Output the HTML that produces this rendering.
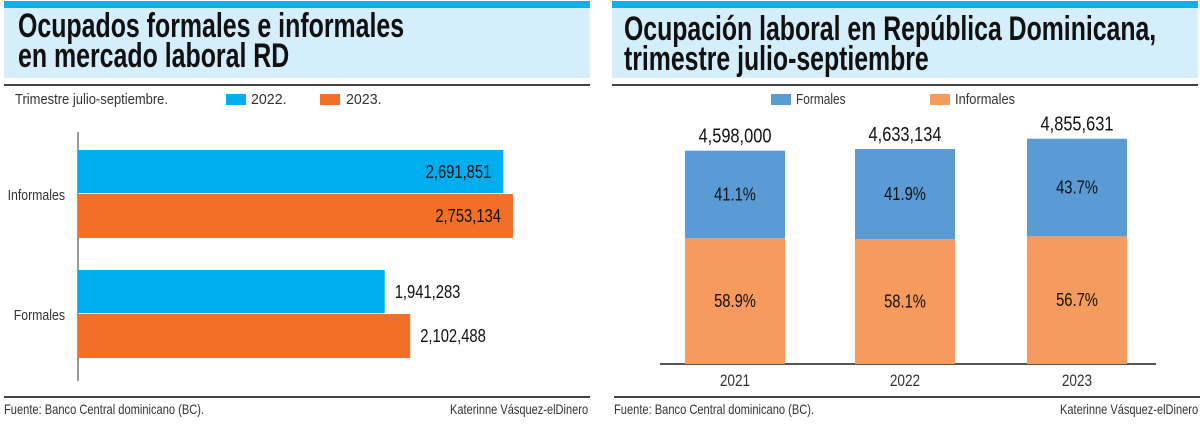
<!DOCTYPE html>
<html><head><meta charset="utf-8"><style>
body{margin:0;width:1200px;height:429px;background:#fff;position:relative;overflow:hidden;font-family:"Liberation Sans",sans-serif;}
.abs{position:absolute;}
.topbar{height:7px;background:#13aee8;top:1px;}
.tbox{top:8px;height:70px;background:#d4eefb;}
.title{font-weight:bold;font-size:34px;line-height:30px;color:#111;white-space:nowrap;transform-origin:0 0;}
.rule{height:2px;background:#444;}
.small{font-size:15px;color:#333;white-space:nowrap;transform-origin:0 0;}
</style></head><body>
<div class="abs topbar" style="left:4px;width:586px"></div>
<div class="abs tbox" style="left:4px;width:586px"></div>
<div class="abs title" data-fit="386" style="left:18px;top:11px">Ocupados formales e informales<br>en mercado laboral RD</div>
<div class="abs rule" style="left:4px;top:84px;width:586px"></div>
<div class="abs small" data-fit="153" style="left:15px;top:91px">Trimestre julio-septiembre.</div>
<div class="abs" style="left:226px;top:94px;width:20px;height:11px;background:#00aeef"></div>
<div class="abs small" data-fit="36" style="left:251px;top:91px">2022.</div>
<div class="abs" style="left:320px;top:94px;width:20px;height:11px;background:#f26f28"></div>
<div class="abs small" data-fit="36" style="left:346px;top:91px">2023.</div>

<div class="abs topbar" style="left:612px;width:586px"></div>
<div class="abs tbox" style="left:612px;width:586px"></div>
<div class="abs title" data-fit="532" style="left:624px;top:14px">Ocupación laboral en República Dominicana,<br>trimestre julio-septiembre</div>
<div class="abs rule" style="left:612px;top:84px;width:586px"></div>
<div class="abs" style="left:771px;top:94px;width:20px;height:11px;background:#5b9bd5"></div>
<div class="abs small" data-fit="50" style="left:796px;top:91px">Formales</div>
<div class="abs" style="left:930px;top:94px;width:20px;height:11px;background:#f79a5e"></div>
<div class="abs small" data-fit="60" style="left:955px;top:91px">Informales</div>

<div class="abs rule" style="left:4px;top:396px;width:586px;height:2px"></div>
<div class="abs small" data-fit="200" style="left:4px;top:401px;font-size:14px">Fuente: Banco Central dominicano (BC).</div>
<div class="abs small" data-fit="138" style="left:450px;top:401px;font-size:14px">Katerinne Vásquez-elDinero</div>
<div class="abs rule" style="left:614px;top:396px;width:586px;height:2px"></div>
<div class="abs small" data-fit="200" style="left:614px;top:401px;font-size:14px">Fuente: Banco Central dominicano (BC).</div>
<div class="abs small" data-fit="138" style="left:1060px;top:401px;font-size:14px">Katerinne Vásquez-elDinero</div>

<svg class="abs" style="left:0;top:0" width="1200" height="429" id="svg"></svg>
<script>
const hCats=["Informales","Formales"];
const h2022=[2691851,1941283];
const h2023=[2753134,2102488];
const vYears=["2021","2022","2023"];
const vTotals=[4598000,4633134,4855631];
const vFormPct=[41.1,41.9,43.7];
const vInfPct=[58.9,58.1,56.7];
document.querySelectorAll('[data-fit]').forEach(e=>{const w=e.scrollWidth;const t=+e.getAttribute('data-fit');e.style.transform='scaleX('+(t/w)+')';});
const NS="http://www.w3.org/2000/svg";
const svg=document.getElementById('svg');
function mk(t,a,txt){const e=document.createElementNS(NS,t);for(const k in a)e.setAttribute(k,a[k]);if(txt!==undefined)e.textContent=txt;svg.appendChild(e);return e;}
function cond(e,f){const w=e.getComputedTextLength();e.setAttribute('textLength',w*f);e.setAttribute('lengthAdjust','spacingAndGlyphs');}
const fmt=v=>v.toLocaleString('en-US');
const x0=78,xs=v=>x0+v*158/1e6;
const groupTop=[150,270];
let ax=mk('line',{x1:x0,y1:132,x2:x0,y2:381,stroke:'#333','stroke-width':1});

hCats.forEach((c,i)=>{
  const y=groupTop[i];
  let b=mk('rect',{x:x0,y:y,width:xs(h2022[i])-x0,height:43,fill:'#00aeef'});
  
  let b2=mk('rect',{x:x0,y:y+44,width:xs(h2023[i])-x0,height:44,fill:'#f26f28'});
  
  let l=mk('text',{x:65,y:y+50,'text-anchor':'end','font-size':15,fill:'#333'},c);
  cond(l,0.82);
  const inside=xs(h2022[i])-x0>380;
  let t1=mk('text',{x:inside?xs(h2022[i])-12:xs(h2022[i])+10,y:y+28,'text-anchor':inside?'end':'start','font-size':18,fill:'#111'},fmt(h2022[i]));
  cond(t1,0.82);
  let t2=mk('text',{x:inside?xs(h2023[i])-12:xs(h2023[i])+10,y:y+72,'text-anchor':inside?'end':'start','font-size':18,fill:'#111'},fmt(h2023[i]));
  cond(t2,0.82);
});
const base=364,ys=v=>v*46.4/1e6;
const cx=[735,905,1077],bw=100;
let bl=mk('line',{x1:660,y1:base,x2:1156,y2:base,stroke:'#555','stroke-width':2});

vYears.forEach((yr,i)=>{
  const h=ys(vTotals[i]),hi=h*vInfPct[i]/100,hf=h-hi;
  let r1=mk('rect',{x:cx[i]-bw/2,y:base-hi,width:bw,height:hi,fill:'#f79a5e'});
  
  let r2=mk('rect',{x:cx[i]-bw/2,y:base-h,width:bw,height:hf,fill:'#5b9bd5'});
  
  let p1=mk('text',{x:cx[i],y:base-hi/2+6,'text-anchor':'middle','font-size':18,fill:'#111'},vInfPct[i].toFixed(1)+'%');
  cond(p1,0.82);
  let p2=mk('text',{x:cx[i],y:base-hi-hf/2+6,'text-anchor':'middle','font-size':18,fill:'#111'},vFormPct[i].toFixed(1)+'%');
  cond(p2,0.82);
  let tt=mk('text',{x:cx[i],y:base-h-8,'text-anchor':'middle','font-size':20,fill:'#111'},fmt(vTotals[i]));
  cond(tt,0.82);
  let yl=mk('text',{x:cx[i],y:base+22,'text-anchor':'middle','font-size':17,fill:'#333'},yr);
  cond(yl,0.8);
});
</script>
</body></html>
